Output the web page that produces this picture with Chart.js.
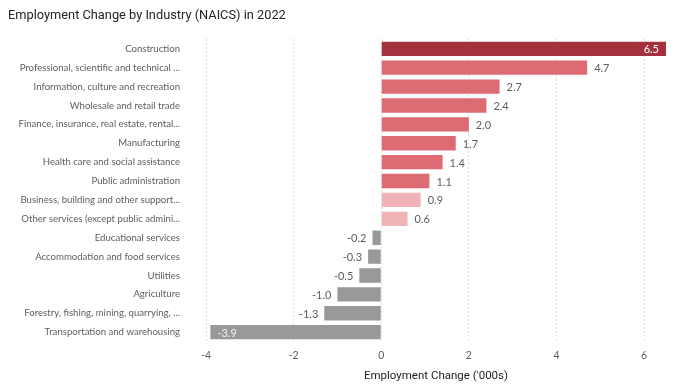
<!DOCTYPE html>
<html>
<head>
<meta charset="utf-8">
<script src="https://cdn.jsdelivr.net/npm/chart.js@4/dist/chart.umd.min.js"></script>
<style>
html,body{margin:0;padding:0;background:#fff;}
#wrap{position:relative;width:700px;height:387px;}
</style>
</head>
<body>
<div id="wrap"><canvas id="c" width="700" height="387"></canvas></div>
<script>
const categories = [
  "Construction",
  "Professional, scientific and technical ...",
  "Information, culture and recreation",
  "Wholesale and retail trade",
  "Finance, insurance, real estate, rental...",
  "Manufacturing",
  "Health care and social assistance",
  "Public administration",
  "Business, building and other support...",
  "Other services (except public admini...",
  "Educational services",
  "Accommodation and food services",
  "Utilities",
  "Agriculture",
  "Forestry, fishing, mining, quarrying, ...",
  "Transportation and warehousing"
];
const changeValues = [6.5, 4.7, 2.7, 2.4, 2.0, 1.7, 1.4, 1.1, 0.9, 0.6, -0.2, -0.3, -0.5, -1.0, -1.3, -3.9];
const xTicks = [-4, -2, 0, 2, 4, 6];

const barColors = changeValues.map((v, i) => {
  if (i === 0) return '#A3313E';
  if (v < 0) return '#999999';
  if (v < 1) return '#F0B4B8';
  return '#DE6A73';
});

const labelFont = '"Lato", "Noto Sans", sans-serif';

const labelPlugin = {
  id: 'valueLabels',
  afterDatasetsDraw(chart) {
    const ctx = chart.ctx;
    const meta = chart.getDatasetMeta(0);
    const area = chart.chartArea;
    ctx.save();
    ctx.font = '11px ' + labelFont;
    ctx.textBaseline = 'middle';
    meta.data.forEach((bar, i) => {
      const v = changeValues[i];
      const txt = v.toFixed(1);
      const w = ctx.measureText(txt).width;
      const x1 = bar.x, y = bar.y + 1;
      if (v >= 0) {
        if (x1 + 8 + w > area.right) {
          ctx.fillStyle = '#ffffff';
          ctx.textAlign = 'right';
          ctx.fillText(txt, x1 - 7, y);
        } else {
          ctx.fillStyle = '#605E5C';
          ctx.textAlign = 'left';
          ctx.fillText(txt, x1 + 7, y);
        }
      } else {
        if (x1 - 8 - w < area.left) {
          ctx.fillStyle = '#f3f3f3';
          ctx.textAlign = 'left';
          ctx.fillText(txt, x1 + 7, y);
        } else {
          ctx.fillStyle = '#605E5C';
          ctx.textAlign = 'right';
          ctx.fillText(txt, x1 - 6, y);
        }
      }
    });
    ctx.restore();
  }
};

new Chart(document.getElementById('c'), {
  type: 'bar',
  data: {
    labels: categories,
    datasets: [{
      data: changeValues,
      backgroundColor: barColors,
      borderWidth: 0,
      categoryPercentage: 0.76,
      barPercentage: 1.0
    }]
  },
  options: {
    indexAxis: 'y',
    responsive: false,
    animation: false,
    devicePixelRatio: 1,
    layout: { padding: { top: 6, left: 8, right: 34, bottom: 4 } },
    plugins: {
      legend: { display: false },
      tooltip: { enabled: false },
      title: {
        display: true,
        text: 'Employment Change by Industry (NAICS) in 2022',
        align: 'start',
        color: '#252423',
        font: { family: '"Roboto", "Noto Sans", sans-serif', size: 12.8, weight: 'normal' },
        padding: { top: 2, bottom: 16 }
      }
    },
    scales: {
      x: {
        type: 'linear',
        min: -4,
        max: 6.5,
        afterBuildTicks(scale) { scale.ticks = xTicks.map(v => ({ value: v })); },
        ticks: {
          color: '#605E5C',
          font: { family: labelFont, size: 10.5 },
          padding: 7.5,
          maxRotation: 0
        },
        grid: {
          color: '#BEBCBA',
          drawTicks: false
        },
        border: { display: false, dash: [1, 3] },
        title: {
          display: true,
          text: "Employment Change ('000s)",
          color: '#252423',
          font: { family: '"Roboto", "Noto Sans", sans-serif', size: 11.5 },
          padding: { top: 0, bottom: 0 }
        }
      },
      y: {
        afterFit(scale) { scale.width = 198; },
        ticks: {
          color: '#605E5C',
          font: { family: labelFont, size: 9.6 },
          padding: 26,
          autoSkip: false
        },
        grid: { display: false, drawTicks: false },
        border: { display: false }
      }
    }
  },
  plugins: [labelPlugin]
});
</script>
</body>
</html>
